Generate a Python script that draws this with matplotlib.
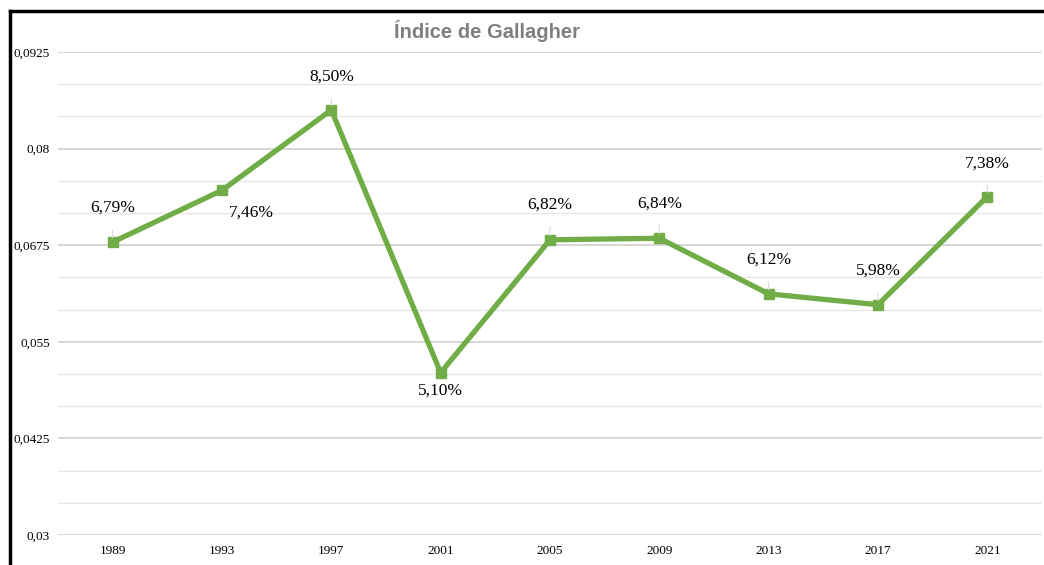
import matplotlib.pyplot as plt
from matplotlib.lines import Line2D
from matplotlib.ticker import FixedLocator

# Data
years = ["1989", "1993", "1997", "2001", "2005", "2009", "2013", "2017", "2021"]
gallagher = [0.0679, 0.0746, 0.0850, 0.0510, 0.0682, 0.0684, 0.0612, 0.0598, 0.0738]
point_labels = ["6,79%", "7,46%", "8,50%", "5,10%", "6,82%", "6,84%", "6,12%", "5,98%", "7,38%"]
y_ticks = [0.03, 0.0425, 0.055, 0.0675, 0.08, 0.0925]
y_tick_labels = ["0,03", "0,0425", "0,055", "0,0675", "0,08", "0,0925"]

# label offsets in pixels (dx, dy)
offsets = [(0, 34), (29, -22), (0, 33), (0, -18), (0, 35), (0, 35), (0, 34), (0, 34), (0, 33)]

green = "#70AD47"
serif = ["Liberation Serif", "DejaVu Serif"]

fig = plt.figure(figsize=(10.44, 5.65), dpi=100)
ax = fig.add_axes([58/1044, 30/565, 984/1044, 483/565])

x = list(range(len(years)))
ax.plot(x, gallagher, color=green, linewidth=3.8, marker="s", markersize=7.5,
        solid_joinstyle="miter", zorder=3)

for i, (val, lab) in enumerate(zip(gallagher, point_labels)):
    dx, dy = offsets[i]
    arrow = None
    if dx == 0 and dy > 0:
        arrow = dict(arrowstyle="-", color="#d9d9d9", lw=0.8, shrinkA=8, shrinkB=3)
    ax.annotate(lab, (i, val), xytext=(dx, dy), textcoords="offset pixels",
                ha="center", va="center", fontsize=12.5, family=serif,
                color="black", arrowprops=arrow, zorder=4)

ax.set_xlim(-0.5, len(years) - 0.5)
ax.set_ylim(0.03, 0.0925)
ax.set_xticks(x)
ax.set_xticklabels(years, family=serif, fontsize=9.5)
ax.set_yticks(y_ticks)
ax.set_yticklabels(y_tick_labels, family=serif, fontsize=9.5)

# two minor lines between each pair of major lines
step = (y_ticks[1] - y_ticks[0]) / 3
minor = []
for t in y_ticks[:-1]:
    minor += [t + step, t + 2 * step]
ax.yaxis.set_minor_locator(FixedLocator(minor))

ax.tick_params(axis="both", which="both", length=0)
ax.tick_params(axis="x", pad=7)
ax.tick_params(axis="y", pad=6)

ax.grid(axis="y", which="major", color="#cfcfcf", linewidth=1.2)
ax.grid(axis="y", which="minor", color="#e6e6e6", linewidth=1.0)
ax.set_axisbelow(True)
for s in ax.spines.values():
    s.set_visible(False)

fig.text(487/1044, 1 - 31/565, "Índice de Gallagher", ha="center", va="center",
         fontsize=14.5, fontweight="bold", color="#7f7f7f",
         family=["Liberation Sans", "DejaVu Sans"])

# black frame on top and left
fig.add_artist(Line2D([10/1044, 10/1044], [0, 1 - 11/565], color="black", lw=2.5,
                      transform=fig.transFigure))
fig.add_artist(Line2D([10/1044, 1], [1 - 11/565, 1 - 11/565], color="black", lw=2.5,
                      transform=fig.transFigure))

fig.savefig("out.png", dpi=100)
